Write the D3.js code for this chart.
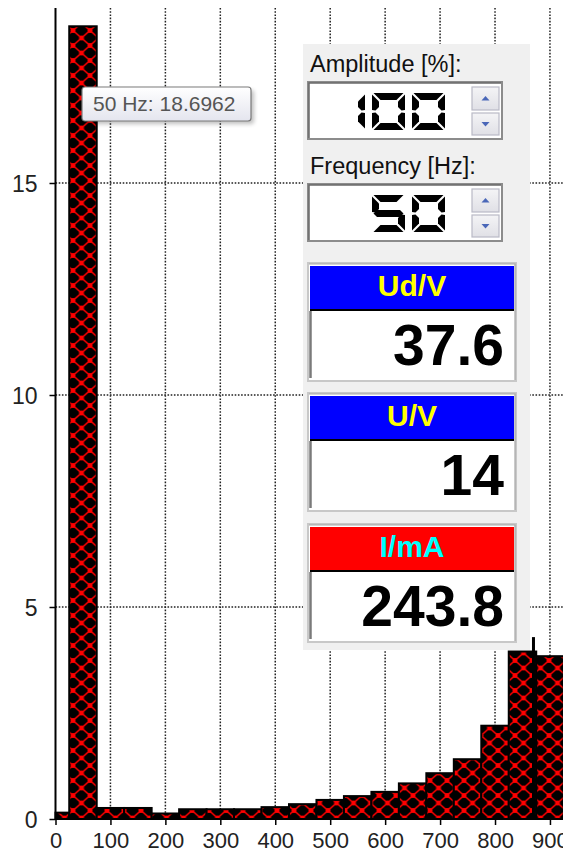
<!DOCTYPE html>
<html>
<head>
<meta charset="utf-8">
<script src="https://cdn.jsdelivr.net/npm/d3@7"></script>
<style>
  html, body { margin: 0; padding: 0; background: #fff; overflow: hidden; }
  svg { display: block; }
</style>
</head>
<body>
<svg id="chart" width="563" height="853"></svg>
<script>
// Harmonic spectrum: frequency of each harmonic bin and its amplitude
const harmonicHz = [0, 50, 100, 150, 200, 250, 300, 350, 400, 450, 500, 550, 600, 650, 700, 750, 800, 850, 900];
const amplitude  = [0.15, 18.6962, 0.26, 0.26, 0.13, 0.23, 0.23, 0.23, 0.28, 0.35, 0.45, 0.54, 0.64, 0.84, 1.08, 1.41, 2.2, 3.95, 3.84];
// Peak-hold marker
const peakHoldHz = [870];
const peakHoldValue = [4.29];

const xTicks = [0, 100, 200, 300, 400, 500, 600, 700, 800, 900];
const yTicks = [0, 5, 10, 15];

const tooltipHz = 50;
const tooltipValue = 18.6962;

// Control panel contents
const spinLabels = ["Amplitude [%]:", "Frequency [Hz]:"];
const spinValues = ["100", "50"];
const meterLabels = ["Ud/V", "U/V", "I/mA"];
const meterValues = ["37.6", "14", "243.8"];
const meterHeaderFill = ["#0000ff", "#0000ff", "#ff0000"];
const meterHeaderText = ["#ffff00", "#ffff00", "#00ffff"];

const W = 563, H = 853;
const plotTop = 8;
const binHalfWidth = 25;
const font = "'Liberation Sans', Arial, sans-serif";

const svg = d3.select("#chart");

const x = d3.scaleLinear().domain([0, 1000]).range([55.5, 604.9]);
const y = d3.scaleLinear().domain([0, 15]).range([819, 183]);

// Hatch fill: black ground with red diagonal cross-hatch and dots at the crossings
const defs = svg.append("defs");
const tw = 17, th = 15;
const pat = defs.append("pattern")
  .attr("id", "hatch").attr("patternUnits", "userSpaceOnUse")
  .attr("width", tw).attr("height", th).attr("x", 13.5).attr("y", 8);
pat.append("rect").attr("width", tw).attr("height", th).attr("fill", "#000");
pat.append("path").attr("d", `M0,0L${tw},${th}M${tw},0L0,${th}`)
  .attr("stroke", "#ff0000").attr("stroke-width", 1.5);
[[0,0],[tw,0],[0,th],[tw,th],[tw/2,th/2]].forEach(([cx, cy]) =>
  pat.append("circle").attr("cx", cx).attr("cy", cy).attr("r", 2.5).attr("fill", "#ff0000"));

const grad = defs.append("linearGradient").attr("id", "tipGrad")
  .attr("x1", 0).attr("y1", 0).attr("x2", 0).attr("y2", 1);
grad.append("stop").attr("offset", "0%").attr("stop-color", "#ffffff");
grad.append("stop").attr("offset", "100%").attr("stop-color", "#e4e5ee");

const btnGrad = defs.append("linearGradient").attr("id", "btnGrad")
  .attr("x1", 0).attr("y1", 0).attr("x2", 0).attr("y2", 1);
btnGrad.append("stop").attr("offset", "0%").attr("stop-color", "#f4f4f6");
btnGrad.append("stop").attr("offset", "100%").attr("stop-color", "#e0e0e6");

defs.append("filter").attr("id", "shadow")
  .attr("x", "-20%").attr("y", "-50%").attr("width", "150%").attr("height", "200%")
  .append("feGaussianBlur").attr("stdDeviation", 2);

// Grid
const grid = svg.append("g").attr("stroke", "#222").attr("stroke-width", 1.5)
  .attr("stroke-dasharray", "1.6,1.6");
grid.selectAll("line.v").data(xTicks.filter(d => d > 0)).join("line")
  .attr("class", "v")
  .attr("x1", d => x(d)).attr("x2", d => x(d))
  .attr("y1", plotTop).attr("y2", y(0));
grid.selectAll("line.h").data(yTicks.filter(d => d > 0)).join("line")
  .attr("class", "h")
  .attr("x1", x(0)).attr("x2", W)
  .attr("y1", d => y(d)).attr("y2", d => y(d));

// Bars
const bins = harmonicHz.map((f, i) => ({ f, v: amplitude[i] }));
svg.append("g").selectAll("rect").data(bins).join("rect")
  .attr("x", d => x(Math.max(0, d.f - binHalfWidth)))
  .attr("width", d => x(d.f + binHalfWidth) - x(Math.max(0, d.f - binHalfWidth)))
  .attr("y", d => y(d.v))
  .attr("height", d => y(0) - y(d.v))
  .attr("fill", "url(#hatch)")
  .attr("stroke", "#000").attr("stroke-width", 2);

// Peak-hold marker
svg.append("g").selectAll("rect").data(peakHoldHz.map((f, i) => ({ f, v: peakHoldValue[i] }))).join("rect")
  .attr("x", d => x(d.f) - 1.5).attr("width", 3)
  .attr("y", d => y(d.v)).attr("height", d => y(0) - y(d.v))
  .attr("fill", "#000");

// Axes
const styleAxis = g => {
  g.selectAll(".tick line").attr("stroke", "#000").attr("stroke-width", 1.5);
  g.selectAll(".tick text").attr("fill", "#222").style("font-family", font).style("font-size", "22px");
};
const xAxis = svg.append("g").attr("transform", `translate(0,${y(0)})`)
  .call(d3.axisBottom(x).tickValues(xTicks).tickSize(6).tickSizeOuter(0).tickFormat(d3.format("d")));
xAxis.select(".domain").remove();
styleAxis(xAxis);
xAxis.selectAll(".tick text").attr("y", 29).attr("dy", null);

const yAxis = svg.append("g").attr("transform", `translate(${x(0)},0)`)
  .call(d3.axisLeft(y).tickValues(yTicks).tickSize(6).tickPadding(12).tickSizeOuter(0));
yAxis.select(".domain").remove();
styleAxis(yAxis);
yAxis.selectAll(".tick text").style("font-size", "23px").attr("dy", "0.36em");

svg.append("line").attr("x1", x(0)).attr("x2", x(0)).attr("y1", plotTop).attr("y2", y(0) + 1)
  .attr("stroke", "#000").attr("stroke-width", 2);
svg.append("line").attr("x1", x(0)).attr("x2", W).attr("y1", y(0)).attr("y2", y(0))
  .attr("stroke", "#000").attr("stroke-width", 2);

// Control panel
const panel = svg.append("g").attr("transform", "translate(303,44)");
panel.append("rect").attr("width", 227).attr("height", 606).attr("fill", "#f0f0f0");

// Seven-segment digit shapes
const segW = 33, segH = 37, segT = 7, pitch = 40;
const segShapes = {
  a: [[1.5,0],[segW-1.5,0],[segW-1.5-segT,segT],[1.5+segT,segT]],
  d: [[1.5,segH],[segW-1.5,segH],[segW-1.5-segT,segH-segT],[1.5+segT,segH-segT]],
  f: [[0,1.5],[segT,1.5+segT],[segT,segH/2-segT/2-1],[segT/2,segH/2-1],[0,segH/2-1.5]],
  e: [[0,segH/2+1.5],[segT/2,segH/2+1],[segT,segH/2+segT/2+1],[segT,segH-1.5-segT],[0,segH-1.5]],
  b: [[segW,1.5],[segW-segT,1.5+segT],[segW-segT,segH/2-segT/2-1],[segW-segT/2,segH/2-1],[segW,segH/2-1.5]],
  c: [[segW,segH/2+1.5],[segW-segT/2,segH/2+1],[segW-segT,segH/2+segT/2+1],[segW-segT,segH-1.5-segT],[segW,segH-1.5]],
  g: [[1.5,segH/2],[1.5+segT/2,segH/2-segT/2],[segW-1.5-segT/2,segH/2-segT/2],[segW-1.5,segH/2],[segW-1.5-segT/2,segH/2+segT/2],[1.5+segT/2,segH/2+segT/2]]
};
const digitSegs = { "0":"abcdef","1":"bc","2":"abged","3":"abgcd","4":"fgbc","5":"afgcd","6":"afgedc","7":"abc","8":"abcdefg","9":"abcdfg" };

const spinTops = [38, 140];
spinLabels.forEach((label, i) => {
  const top = spinTops[i];
  panel.append("text").attr("x", 7).attr("y", top - 10)
    .attr("fill", "#111").style("font-family", font).style("font-size", "23.5px")
    .text(label);
  const box = panel.append("g").attr("transform", `translate(5,${top})`);
  box.append("rect").attr("x", 0).attr("y", 0).attr("width", 194).attr("height", 57)
    .attr("fill", "#fff").attr("stroke", "#8c8c8c").attr("stroke-width", 2);
  box.append("path").attr("d", "M1,56V1H193").attr("fill", "none").attr("stroke", "#6a6a6a").attr("stroke-width", 1.5);
  // LCD digits, right aligned
  const s = spinValues[i];
  const digits = box.append("g").attr("transform", "translate(0,11)");
  digits.append("title").text(s);
  s.split("").forEach((ch, k) => {
    const dx = 137 - segW - (s.length - 1 - k) * pitch;
    const dg = digits.append("g").attr("transform", `translate(${dx},0)`);
    digitSegs[ch].split("").forEach(sg =>
      dg.append("polygon").attr("points", segShapes[sg].map(p => p.join(",")).join(" ")).attr("fill", "#000"));
  });
  // Spin buttons
  [[5, 23, -1], [31, 22, 1]].forEach(([by, bh, dir]) => {
    box.append("rect").attr("x", 164).attr("y", by).attr("width", 27).attr("height", bh)
      .attr("fill", "url(#btnGrad)").attr("stroke", "#b9bac6").attr("stroke-width", 1.2);
    const cx = 177.5, cy = by + bh / 2;
    box.append("path")
      .attr("d", dir < 0 ? `M${cx-4},${cy+2}L${cx+4},${cy+2}L${cx},${cy-2.5}Z` : `M${cx-4},${cy-2}L${cx+4},${cy-2}L${cx},${cy+2.5}Z`)
      .attr("fill", "#4a67b8");
  });
});

// Readout meters
const meterTops = [219, 349, 480];
meterLabels.forEach((label, i) => {
  const m = panel.append("g").attr("transform", `translate(5,${meterTops[i]})`);
  m.append("rect").attr("x", 0).attr("y", 0).attr("width", 208).attr("height", 118)
    .attr("fill", "#fff").attr("stroke", "#c8c8c8").attr("stroke-width", 2);
  m.append("rect").attr("x", 2).attr("y", 3).attr("width", 204).attr("height", 44)
    .attr("fill", meterHeaderFill[i]);
  m.append("line").attr("x1", 2).attr("x2", 206).attr("y1", 47).attr("y2", 47)
    .attr("stroke", "#000").attr("stroke-width", 2);
  m.append("path").attr("d", "M2.5,48V115").attr("stroke", "#7a7a7a").attr("stroke-width", 2.5);
  m.append("path").attr("d", "M1,1H207V117").attr("fill", "none").attr("stroke", "#a8a8a8").attr("stroke-width", 1.2);
  m.append("text").attr("x", 104).attr("y", 33).attr("text-anchor", "middle")
    .attr("fill", meterHeaderText[i]).style("font-family", font).style("font-size", "30px")
    .style("font-weight", "bold")
    .text(label);
  m.append("text").attr("x", 196).attr("y", 102).attr("text-anchor", "end")
    .attr("fill", "#000").style("font-family", font).style("font-size", "57px")
    .style("font-weight", "bold")
    .text(meterValues[i]);
});

// Tooltip for the fundamental
const tip = svg.append("g").attr("transform", "translate(82,87)");
tip.append("rect").attr("x", 3).attr("y", 3).attr("width", 169).attr("height", 34).attr("rx", 3)
  .attr("fill", "#000").attr("opacity", 0.25).attr("filter", "url(#shadow)");
tip.append("rect").attr("x", 0).attr("y", 0).attr("width", 169).attr("height", 34).attr("rx", 3)
  .attr("fill", "url(#tipGrad)").attr("stroke", "#7a7a7a").attr("stroke-width", 1.2);
tip.append("text").attr("x", 11).attr("y", 24)
  .attr("fill", "#555").style("font-family", font).style("font-size", "21px")
  .text(`${tooltipHz} Hz: ${tooltipValue}`);
</script>
</body>
</html>
